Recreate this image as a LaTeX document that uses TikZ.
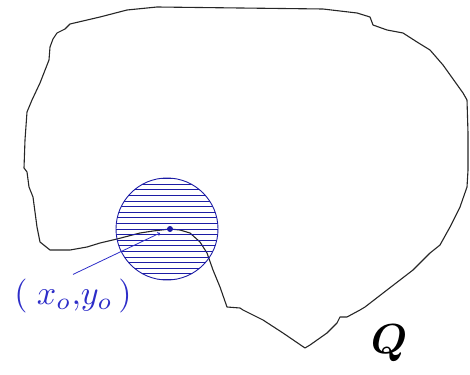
\documentclass[tikz,border=0pt]{standalone}
\usepackage{amsmath}
\usepackage{bm}
\definecolor{hatchblue}{RGB}{28,28,165}
\definecolor{labelblue}{RGB}{45,45,200}
\begin{document}
\begin{tikzpicture}[x=1pt,y=-1pt]
\useasboundingbox (0,0) rectangle (470,374);
% the region Q
\draw[line width=1.1pt,line join=round,black!85] (24,168) -- (27,172) -- (29,187) -- (33,197) -- (37,227) -- (40,242)
  -- (50,250) -- (70,250) -- (87,247) -- (100,243) -- (117,239) -- (140,233) -- (153,231) -- (170,229)
  -- (180,230) -- (190,233) -- (200,242) -- (207,253) -- (213,270) -- (220,287) -- (227,307)
  -- (240,308) -- (243,310) -- (263,320) -- (283,333) -- (305,348) -- (310,345) -- (327,333)
  -- (337,323) -- (340,317) -- (347,317) -- (360,310) -- (365,307) -- (387,290) -- (413,270)
  -- (430,253) -- (440,245) -- (450,227) -- (460,207) -- (467,187) -- (468,170) -- (468,133)
  -- (467,100) -- (463,93) -- (443,65) -- (430,50) -- (417,42) -- (403,33) -- (387,30)
  -- (373,25) -- (370,17) -- (357,13) -- (323,9) -- (240,8) -- (157,7) -- (127,10) -- (100,17)
  -- (70,24) -- (65,29) -- (57,33) -- (53,39) -- (50,47) -- (49,60) -- (40,83) -- (32,100)
  -- (27,112) -- (25,140) -- cycle;
% hatched disc
\begin{scope}
\clip (167,229) circle (51pt);
\foreach \k in {-9,...,9} \draw[hatchblue,line width=0.8pt] (110,229+\k*5.6) -- (225,229+\k*5.6);
\end{scope}
\draw[hatchblue,line width=0.9pt] (167,229) circle (51pt);
\coordinate (p0) at (170,229);
\fill[hatchblue] (p0) circle (3pt);
\node[labelblue,anchor=base,inner sep=1pt,scale=3.4] (lbl) at (73,304) {$(\;x_o{,}y_o\,)$};
\coordinate (tip) at (160,233);
\draw[labelblue,line width=0.8pt,->] (lbl.north) -- (tip);
\node[anchor=base,scale=4.2] (qname) at (389,353) {$\bm{Q}$};
\end{tikzpicture}
\end{document}
